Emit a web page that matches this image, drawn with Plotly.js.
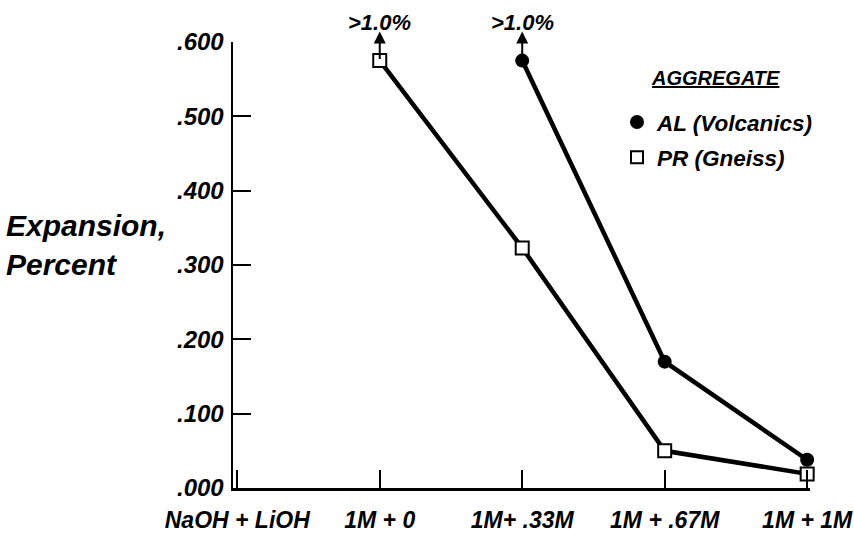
<!DOCTYPE html>
<html>
<head>
<meta charset="utf-8">
<script src="https://cdn.plot.ly/plotly-3.0.1.min.js"></script>
<style>html,body{margin:0;padding:0;background:#fff;}#chart{width:854px;height:539px;}</style>
</head>
<body>
<div id="chart"></div>
<script>
// Categories (x positions 0..4)
const categories = ["NaOH + LiOH", "1M + 0", "1M+ .33M", "1M + .67M", "1M + 1M"];
const catIndex = [0, 1, 2, 3, 4];

// Series values (Expansion, percent)
const alX = [2, 3, 4];
const alValues = [0.575, 0.170, 0.038];
const prX = [1, 2, 3, 4];
const prValues = [0.575, 0.323, 0.050, 0.019];

// Off-scale markers ("> 1.0%")
const offScaleX = [1, 2];
const offScaleFrom = [0.575, 0.575];
const offScaleTo = [0.614, 0.614];
const offScaleLabel = [">1.0%", ">1.0%"];
const offScaleLabelY = [0.626, 0.626];

// Axis ticks
const yTickVals = [0, 0.1, 0.2, 0.3, 0.4, 0.5, 0.6];
const yTickText = [".000", ".100", ".200", ".300", ".400", ".500", ".600"];

const Y_RANGE = [0, 0.6];
const FONT = "'Liberation Sans', Arial, sans-serif";

const traces = [
  {x: alX, y: alValues, mode: "lines+markers", name: "AL (Volcanics)", showlegend: false,
   line: {color: "#000", width: 4.5}, cliponaxis: false,
   marker: {symbol: "circle", size: 14, color: "#000"}},
  {x: prX, y: prValues, mode: "lines+markers", name: "PR (Gneiss)", showlegend: false,
   line: {color: "#000", width: 4.5}, cliponaxis: false,
   marker: {symbol: "square", size: 13, color: "#fff", line: {color: "#000", width: 2}}},
  {x: [null], y: [null], mode: "markers", name: "<i><b>AL (Volcanics)</b></i>", legendgroup: "a",
   marker: {symbol: "circle", size: 14, color: "#000"}},
  {x: [null], y: [null], mode: "markers", name: "<i><b>PR (Gneiss)</b></i>", legendgroup: "b",
   marker: {symbol: "square", size: 12, color: "#fff", line: {color: "#000", width: 2}}}
];

const toPaperY = v => (v - Y_RANGE[0]) / (Y_RANGE[1] - Y_RANGE[0]);

const annotations = [];
offScaleX.forEach((xv, i) => {
  annotations.push({x: xv, y: offScaleTo[i], ax: xv, ay: offScaleFrom[i], axref: "x", ayref: "y",
    xref: "x", yref: "y", text: "", showarrow: true, arrowhead: 2, arrowsize: 1.2, arrowwidth: 2,
    arrowcolor: "#000", standoff: 0, startstandoff: 0});
  annotations.push({x: xv, y: toPaperY(offScaleLabelY[i]), xref: "x", yref: "paper",
    text: "<b><i>" + offScaleLabel[i] + "</i></b>",
    showarrow: false, yanchor: "middle", xanchor: "center", font: {family: FONT, size: 22, color: "#000"}});
});
annotations.push({x: -0.397, y: 0.545, xref: "paper", yref: "paper", xanchor: "left", yanchor: "middle",
  text: "<b><i>Expansion,<br>Percent</i></b>", showarrow: false, align: "left",
  font: {family: FONT, size: 30, color: "#000"}});
annotations.push({x: 0.721, y: 0.919, xref: "paper", yref: "paper", xanchor: "left", yanchor: "middle",
  text: "<b><i><u>AGGREGATE</u></i></b>", showarrow: false,
  font: {family: FONT, size: 20, color: "#000"}});

const layout = {
  width: 854, height: 539,
  margin: {l: 233, r: 44, t: 42, b: 51, pad: 0},
  paper_bgcolor: "#fff", plot_bgcolor: "#fff",
  font: {family: FONT, color: "#000"},
  showlegend: true,
  legend: {x: 0.6655, y: 0.868, xanchor: "left", yanchor: "top", bgcolor: "rgba(0,0,0,0)",
    font: {family: FONT, size: 22.5, color: "#000"}, itemwidth: 30, tracegroupgap: 3},
  xaxis: {range: [-0.03, 4.02], tickvals: catIndex, ticktext: categories.map(c => "<b><i>" + c + "</i></b>"),
    ticks: "inside", ticklen: 18, tickwidth: 2, tickcolor: "#000", showline: true, linecolor: "#000", linewidth: 2.5,
    showgrid: false, zeroline: false, tickfont: {family: FONT, size: 23, color: "#000"}, ticklabelstandoff: 10,
    fixedrange: true},
  yaxis: {range: Y_RANGE, tickvals: yTickVals, ticktext: yTickText.map(t => "<b><i>" + t + "</i></b>"),
    ticks: "inside", ticklen: 18, tickwidth: 2, tickcolor: "#000", showline: true, linecolor: "#000", linewidth: 2.5,
    showgrid: false, zeroline: false, tickfont: {family: FONT, size: 24, color: "#000"}, ticklabelstandoff: 2,
    fixedrange: true},
  annotations: annotations
};

Plotly.newPlot("chart", traces, layout, {displayModeBar: false, staticPlot: true});
</script>
</body>
</html>
